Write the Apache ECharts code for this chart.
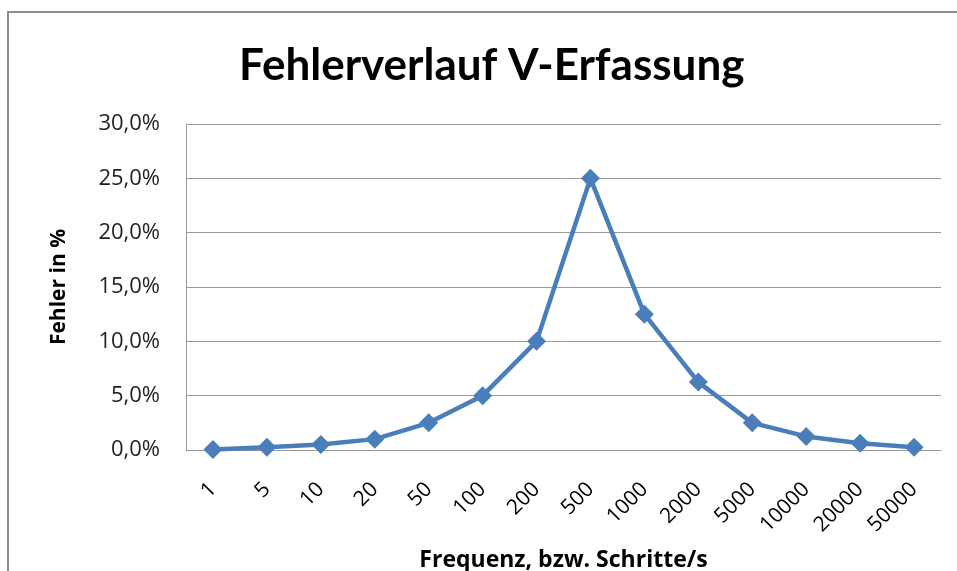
<!DOCTYPE html>
<html>
<head>
<meta charset="utf-8">
<script src="https://cdn.jsdelivr.net/npm/echarts@6/dist/echarts.min.js"></script>
<style>
  html, body { margin: 0; padding: 0; background: #fff; }
  #main { width: 957px; height: 571px; }
</style>
</head>
<body>
<div id="main"></div>
<script>
// Frequenzen (Kategorien)
var frequenzen = ['1', '5', '10', '20', '50', '100', '200', '500', '1000', '2000', '5000', '10000', '20000', '50000'];
// Fehler in Prozent
var fehler = [0.05, 0.25, 0.5, 1, 2.5, 5, 10, 25, 12.5, 6.25, 2.5, 1.25, 0.625, 0.25];
var yTicks = [0, 5, 10, 15, 20, 25, 30];

var titelFont = 'Lato, "Open Sans", sans-serif';
var fontFam = '"Open Sans", Lato, sans-serif';

var myChart = echarts.init(document.getElementById('main'));
myChart.setOption({
  animation: false,
  backgroundColor: '#fff',
  graphic: [{
    type: 'rect',
    shape: { x: 8, y: 12, width: 1000, height: 600 },
    style: { fill: 'none', stroke: '#8c8c8c', lineWidth: 2 },
    silent: true
  }],
  title: {
    text: 'Fehlerverlauf V-Erfassung',
    left: 234,
    top: 39,
    textStyle: { fontFamily: titelFont, fontSize: 44, fontWeight: 'bold', color: '#000' }
  },
  grid: { left: 186, right: 16, top: 124, bottom: 121, outerBoundsMode: 'none', containLabel: false },
  xAxis: {
    type: 'category',
    data: frequenzen,
    boundaryGap: true,
    name: 'Frequenz, bzw. Schritte/s',
    nameLocation: 'middle',
    nameGap: 99,
    nameTextStyle: { fontFamily: fontFam, fontSize: 23, fontWeight: 'bold', color: '#000' },
    axisLine: { lineStyle: { color: '#999', width: 1 } },
    axisTick: { show: false },
    axisLabel: { rotate: 45, margin: 36, fontFamily: fontFam, fontSize: 21, color: '#000' }
  },
  yAxis: {
    type: 'value',
    min: yTicks[0],
    max: yTicks[yTicks.length - 1],
    interval: 5,
    name: 'Fehler in %',
    nameLocation: 'middle',
    nameGap: 116,
    nameTextStyle: { fontFamily: fontFam, fontSize: 21, fontWeight: 'bold', color: '#000' },
    axisLine: { show: true, lineStyle: { color: '#999', width: 1 } },
    axisTick: { show: false },
    splitLine: { lineStyle: { color: '#999', width: 1 } },
    axisLabel: {
      margin: 26,
      fontFamily: fontFam, fontSize: 22, color: '#222',
      formatter: function (v) { return v.toFixed(1).replace('.', ',') + '%'; }
    }
  },
  series: [{
    type: 'line',
    data: fehler,
    symbol: 'diamond',
    symbolSize: 19,
    lineStyle: { color: '#4a7ebb', width: 4.5 },
    itemStyle: { color: '#4a7ebb' }
  }]
});
</script>
</body>
</html>
